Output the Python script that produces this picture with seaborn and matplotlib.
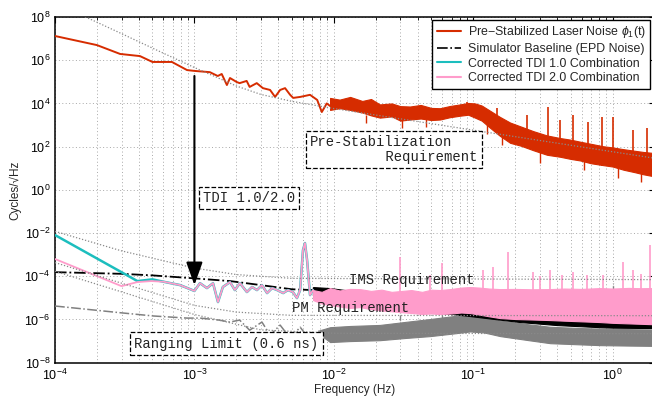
import matplotlib
matplotlib.use("Agg")
import matplotlib.pyplot as plt
import seaborn as sns
from matplotlib.ticker import FixedLocator, LogLocator, NullLocator, LogFormatterMathtext
from matplotlib.lines import Line2D

# ---------------- data ----------------
# Pre-stabilized laser noise (red): traced low-frequency part
red_f = [1e-4, 2.0e-4, 2.93e-4, 4.07e-4, 5.0e-4, 6.9e-4, 8.85e-4, 1.0e-3, 1.29e-3, 1.47e-3,
         1.57e-3, 1.71e-3, 1.80e-3, 2.01e-3, 2.11e-3, 2.37e-3, 2.49e-3, 2.80e-3, 3.10e-3, 3.49e-3,
         3.79e-3, 4.12e-3, 4.47e-3, 4.86e-3, 5.11e-3, 5.74e-3, 6.75e-3, 7.6e-3, 8.2e-3, 8.9e-3, 9.4e-3]
red_v = [1.32e7, 5.0e6, 1.95e6, 1.55e6, 8.3e5, 8.3e5, 3.5e5, 3.2e5, 2.8e5, 1.86e5,
         2.3e5, 7.1e4, 1.5e5, 9.8e4, 8.7e4, 1.1e5, 5.8e4, 8.7e4, 5.1e4, 4.2e4,
         2.0e4, 4.2e4, 5.1e4, 2.5e4, 1.8e4, 2.0e4, 2.5e4, 1.45e4, 4.0e3, 1.0e4, 7.6e3]
# red noisy band (high frequency)
red_band_f = [9.4e-3, 1.1e-2, 1.31e-2, 1.6e-2, 1.85e-2, 2.14e-2, 2.6e-2, 3.0e-2, 3.52e-2, 4.2e-2,
              5.0e-2, 5.78e-2, 6.8e-2, 8.04e-2, 0.092, 0.103, 0.115, 0.132, 0.155, 0.184,
              0.22, 0.27, 0.338, 0.42, 0.50, 0.583, 0.70, 0.85, 1.0, 1.2, 1.45, 1.65, 1.85, 2.0]
red_band_hi = [1.8e4, 1.5e4, 2.0e4, 1.3e4, 1.6e4, 9.0e3, 1.0e4, 7.5e3, 7.2e3, 8.5e3,
               6.2e3, 6.0e3, 7.6e3, 9.0e3, 1.05e4, 1.0e4, 8.0e3, 4.6e3, 2.4e3, 1.3e3,
               8.5e2, 5.2e2, 3.3e2, 2.5e2, 2.1e2, 1.7e2, 1.35e2, 1.05e2, 92, 76, 64, 57, 53, 50]
red_band_lo = [5.0e3, 6.0e3, 5.0e3, 3.8e3, 2.8e3, 2.2e3, 2.5e3, 1.6e3, 1.8e3, 2.0e3,
               1.7e3, 1.8e3, 2.3e3, 2.7e3, 3.0e3, 2.2e3, 1.6e3, 7.5e2, 3.2e2, 1.5e2,
               1.1e2, 68, 42, 34, 27, 23, 17, 14, 12, 8.5, 6.5, 5.3, 4.6, 4.2]
red_spike_f = [0.0597, 0.0904, 0.148, 0.243, 0.344, 0.42, 0.52, 0.667, 0.84, 1.0, 1.40, 1.77]
red_spike_v = [5.0e3, 1.2e4, 6.2e3, 2.9e3, 6.8e3, 1.7e3, 2.9e3, 1.4e3, 2.3e3, 2.3e3, 5.9e2, 7.3e2]
red_spike_base = [2.0e3, 3.0e3, 5.0e2, 1.2e2, 45, 34, 25, 17, 13, 12, 6.5, 5.0]
red_dip_f = [1.7e-2, 3.1e-2, 4.6e-2, 0.125, 0.16, 0.30, 0.62, 1.1, 1.6]
red_dip_top = [3.0e3, 2.0e3, 2.0e3, 2.0e3, 5.0e2, 60, 25, 10, 6]
red_dip_v = [1.2e3, 7.0e2, 8.0e2, 4.0e2, 1.2e2, 18, 8, 3.5, 2.2]

# Simulator baseline (EPD noise, black dash-dot)
epd_f = [1e-4, 3e-4, 5e-4, 1e-3, 1.8e-3, 3e-3, 5e-3, 7.1e-3]
epd_v = [1.55e-4, 1.3e-4, 1.1e-4, 8e-5, 6e-5, 3.9e-5, 2.5e-5, 2.3e-5]
epd_band_f = [7.1e-3, 9.4e-3, 2.0e-2, 4.15e-2, 7.0e-2, 9.5e-2, 0.12, 0.217, 0.4, 0.81, 1.0, 1.85, 2.0]
epd_band_hi = [3.16e-5, 2.84e-5, 1.5e-5, 7.9e-6, 6.5e-6, 5.7e-6, 5.5e-6, 3.75e-6, 3.0e-6, 2.45e-6, 2.4e-6, 2.2e-6, 2.2e-6]
epd_band_lo = [1.09e-5, 7.9e-6, 4.0e-6, 2.2e-6, 1.8e-6, 1.44e-6, 1.2e-6, 7.6e-7, 5.5e-7, 4.4e-7, 4.2e-7, 4.0e-7, 4.0e-7]

# Corrected TDI 1.0 (cyan): visible low-frequency part
tdi1_f = [1e-4, 3.9e-4, 5.0e-4, 6.0e-4]
tdi1_v = [8.1e-3, 6.0e-5, 7.2e-5, 5.6e-5]

# Corrected TDI 2.0 (pink)
tdi2_f = [1e-4, 3.0e-4, 3.9e-4, 4.9e-4, 6.0e-4, 7.9e-4, 1.0e-3, 1.096e-3, 1.23e-3, 1.36e-3,
          1.476e-3, 1.60e-3, 1.80e-3, 1.95e-3, 2.12e-3, 2.38e-3, 2.59e-3, 2.81e-3, 3.05e-3, 3.32e-3,
          3.61e-3, 3.92e-3, 4.33e-3, 4.69e-3, 5.09e-3, 5.44e-3, 5.73e-3, 6.01e-3, 6.21e-3, 6.43e-3,
          6.75e-3, 7.10e-3]
tdi2_v = [6.3e-4, 3.5e-5, 5.4e-5, 6.0e-5, 5.6e-5, 3.9e-5, 2.1e-5, 4.8e-5, 2.84e-5, 4.8e-5,
          6.4e-6, 3.2e-5, 5.4e-5, 2.3e-5, 4.8e-5, 1.86e-5, 3.2e-5, 2.3e-5, 3.9e-5, 1.67e-5,
          2.84e-5, 2.3e-5, 1.67e-5, 2.3e-5, 1.86e-5, 9.8e-6, 2.3e-5, 1.63e-3, 3.44e-3, 5.6e-4,
          1.35e-5, 2.3e-5]
tdi2_band_f = [7.1e-3, 8.2e-3, 9.4e-3, 1.1e-2, 1.3e-2, 1.54e-2, 1.85e-2, 2.2e-2, 2.6e-2, 2.99e-2,
               3.6e-2, 4.3e-2, 5.0e-2, 5.78e-2, 7.0e-2, 8.2e-2, 9.5e-2, 0.11, 0.13, 0.156,
               0.2, 0.26, 0.356, 0.45, 0.6, 0.81, 1.0, 1.3, 1.6, 1.85, 2.0]
tdi2_band_hi = [2.3e-5, 1.9e-5, 2.84e-5, 2.2e-5, 2.6e-5, 2.55e-5, 2.1e-5, 2.4e-5, 1.9e-5, 2.06e-5,
                2.3e-5, 1.9e-5, 2.4e-5, 2.3e-5, 2.6e-5, 3.0e-5, 3.16e-5, 3.0e-5, 2.7e-5, 2.55e-5,
                2.6e-5, 2.5e-5, 2.55e-5, 2.7e-5, 2.6e-5, 2.84e-5, 2.7e-5, 2.9e-5, 2.8e-5, 2.84e-5, 2.84e-5]
tdi2_band_lo = [7.9e-6, 5.5e-6, 4.6e-6, 4.0e-6, 3.4e-6, 3.75e-6, 3.0e-6, 2.6e-6, 2.4e-6, 2.2e-6,
                2.0e-6, 1.8e-6, 1.9e-6, 1.78e-6, 1.9e-6, 2.1e-6, 1.98e-6, 1.7e-6, 1.4e-6, 1.16e-6,
                1.05e-6, 1.0e-6, 9.4e-7, 8.8e-7, 8.2e-7, 7.6e-7, 7.0e-7, 6.6e-7, 6.3e-7, 6.1e-7, 6.0e-7]
tdi2_spike_f = [2.99e-2, 4.9e-2, 5.97e-2, 0.1175, 0.139, 0.178, 0.269, 0.30, 0.356, 0.43,
                0.52, 0.65, 0.853, 1.19, 1.40, 1.6, 1.85]
tdi2_spike_v = [7.8e-4, 1.2e-4, 4.1e-4, 1.94e-4, 2.7e-4, 1.32e-3, 1.55e-4, 1.0e-4, 1.94e-4, 1.1e-4,
                1.55e-4, 1.2e-4, 1.15e-4, 4.5e-4, 1.94e-4, 1.3e-4, 2.8e-3]

# unlabelled grey trace (dash-dot)
grey_f = [1e-4, 2.97e-4, 5.1e-4, 8.85e-4, 1.1e-3, 1.5e-3, 1.8e-3, 2.11e-3, 2.49e-3, 3.05e-3,
          3.49e-3, 4.12e-3, 4.86e-3, 5.74e-3, 6.75e-3, 7.96e-3, 9.4e-3]
grey_v = [4.2e-6, 2.04e-6, 1.45e-6, 1.16e-6, 1.16e-6, 9.4e-7, 7.6e-7, 9.4e-7, 3.2e-7, 7.6e-7,
          1.9e-7, 5.5e-7, 1.38e-7, 4.4e-7, 1.1e-7, 3.2e-7, 2.5e-7]
grey_band_f = [7.96e-3, 9.4e-3, 1.3e-2, 2.14e-2, 3.3e-2, 4.9e-2, 7.0e-2, 9.5e-2, 0.12, 0.156, 0.25,
               0.356, 0.6, 0.81, 1.3, 2.0]
grey_band_hi = [3.2e-7, 4.4e-7, 5.0e-7, 5.6e-7, 7.8e-7, 1.05e-6, 1.4e-6, 1.8e-6, 1.5e-6, 8.8e-7, 6.0e-7,
                4.6e-7, 4.0e-7, 3.8e-7, 3.6e-7, 3.4e-7]
grey_band_lo = [2.0e-7, 9e-8, 1.0e-7, 1.1e-7, 1.4e-7, 1.7e-7, 2.2e-7, 2.8e-7, 2.5e-7, 1.7e-7, 1.1e-7,
                8.0e-8, 7.0e-8, 6.5e-8, 6.2e-8, 6.0e-8]
grey_spike_f = [2.99e-2, 5.97e-2, 1.0]
grey_spike_v = [1.0e-5, 8e-6, 5e-5]

# requirement curves (grey dotted)
prestab_f = [1.5e-4, 3e-4, 6e-4, 1e-3, 2e-3, 3e-3, 5e-3, 1e-2, 0.1, 1, 2]
prestab_v = [1.35e8, 1.7e7, 2.1e6, 4.6e5, 6.4e4, 2.6e4, 1.25e4, 5.8e3, 5.8e2, 58, 29]
ims_f = [1e-4, 3e-4, 1e-3, 2e-3, 5e-3, 2]
ims_v = [1.2e-2, 1.5e-3, 2.4e-4, 1.2e-4, 8e-5, 7e-5]
pm_f = [1e-4, 3e-4, 1e-3, 2e-3, 5e-3, 2]
pm_v = [4.3e-4, 4.8e-5, 4.5e-6, 2.2e-6, 1.55e-6, 1.5e-6]
rang_f = [1e-4, 3e-4, 1e-3, 3e-3, 1e-2, 2]
rang_v = [1.7e-4, 1.9e-5, 1.7e-6, 3.3e-7, 2.3e-7, 2.2e-7]

x_ticks = [1e-4, 1e-3, 1e-2, 1e-1, 1e0]
y_ticks = [1e-8, 1e-6, 1e-4, 1e-2, 1e0, 1e2, 1e4, 1e6, 1e8]

legend_labels = ["Pre\u2212Stabilized Laser Noise $\\phi_1$(t)",
                 "Simulator Baseline (EPD Noise)",
                 "Corrected TDI 1.0 Combination",
                 "Corrected TDI 2.0 Combination"]

# ---------------- style ----------------
RED = "#D62C00"
CYAN = "#1CBEBE"
PINK = "#FF9CCB"
GREY = "#808080"
REQ = "#8a8a8a"

sns.set_style("white")
plt.rcParams["font.family"] = ["Liberation Sans", "DejaVu Sans"]
plt.rcParams["mathtext.fontset"] = "custom"
plt.rcParams["mathtext.rm"] = "Liberation Sans"
plt.rcParams["mathtext.it"] = "Liberation Sans:italic"
plt.rcParams["mathtext.bf"] = "Liberation Sans:bold"

fig = plt.figure(figsize=(6.52, 4.0), dpi=100)
ax = fig.add_axes([55 / 652, 1 - 362.7 / 400, 599.6 / 652, 345.7 / 400])
ax.set_xscale("log")
ax.set_yscale("log")


def line(f, v, **kw):
    sns.lineplot(x=f, y=v, ax=ax, estimator=None, sort=False, legend=False, **kw)


# requirement curves
for f, v in [(prestab_f, prestab_v), (ims_f, ims_v), (pm_f, pm_v), (rang_f, rang_v)]:
    line(f, v, color=REQ, linestyle=(0, (1, 1.5)), linewidth=0.9, zorder=4)

# red laser noise
line(red_f, red_v, color=RED, linewidth=1.4, zorder=3)
ax.fill_between(red_band_f, red_band_lo, red_band_hi, color=RED, linewidth=0.8, edgecolor=RED, zorder=3)
ax.vlines(red_spike_f, red_spike_base, red_spike_v, color=RED, linewidth=1.2, zorder=3)
ax.vlines(red_dip_f, red_dip_v, red_dip_top, color=RED, linewidth=1.0, zorder=3)

# grey trace
line(grey_f, grey_v, color=GREY, linestyle="-.", linewidth=1.1, zorder=3)
ax.fill_between(grey_band_f, grey_band_lo, grey_band_hi, color=GREY, linewidth=0.8, edgecolor=GREY, zorder=3)
ax.vlines(grey_spike_f, [2e-7] * len(grey_spike_f), grey_spike_v, color=GREY, linestyle="--", linewidth=1.0, zorder=3)

# EPD baseline
line(epd_f, epd_v, color="black", linestyle="-.", linewidth=1.3, zorder=3)
ax.fill_between(epd_band_f, epd_band_lo, epd_band_hi, color="black", linewidth=0.8, edgecolor="black", zorder=3)

# TDI 1.0 (cyan) continues under TDI 2.0
line(tdi1_f + tdi2_f[5:], tdi1_v + tdi2_v[5:], color=CYAN, linewidth=1.8, zorder=3)
# TDI 2.0
line(tdi2_f, tdi2_v, color=PINK, linewidth=1.3, zorder=3)
ax.fill_between(tdi2_band_f, tdi2_band_lo, tdi2_band_hi, color=PINK, linewidth=0.8, edgecolor=PINK, zorder=3)
ax.vlines(tdi2_spike_f, [1.5e-5] * len(tdi2_spike_f), tdi2_spike_v, color=PINK, linewidth=1.2, zorder=3)

# ---------------- axes ----------------
ax.set_xlim(1e-4, 2)
ax.set_ylim(1e-8, 1e8)
ax.xaxis.set_major_locator(FixedLocator(x_ticks))
ax.xaxis.set_minor_locator(LogLocator(base=10, subs=[2, 3, 4, 5, 6, 7, 8, 9], numticks=20))
ax.yaxis.set_major_locator(FixedLocator(y_ticks))
ax.yaxis.set_minor_locator(NullLocator())
ax.xaxis.set_major_formatter(LogFormatterMathtext(base=10))
ax.yaxis.set_major_formatter(LogFormatterMathtext(base=10))
ax.tick_params(which="both", direction="in", top=True, right=True, colors="black", labelsize=9)
ax.tick_params(which="major", length=4, width=0.8)
ax.tick_params(which="minor", length=2.5, width=0.6)
ax.grid(which="major", axis="both", color="#a8a8a8", linestyle=(0, (1, 2.5)), linewidth=0.7)
ax.grid(which="minor", axis="x", color="#a8a8a8", linestyle=(0, (1, 2.5)), linewidth=0.7)
ax.set_axisbelow(True)
for s in ax.spines.values():
    s.set_color("black")
    s.set_linewidth(1.1)

ax.set_xlabel("Frequency (Hz)", fontsize=8.5, labelpad=1)
ax.set_ylabel("Cycles/\u221aHz", fontsize=8.5, labelpad=2)

# ---------------- annotations ----------------
ax.annotate("", xy=(1e-3, 3.9e-5), xytext=(1e-3, 1.86e5),
            arrowprops=dict(arrowstyle="-|>,head_length=0.7,head_width=0.25", color="black",
                            lw=1.5, mutation_scale=20, shrinkA=0, shrinkB=0), zorder=5)

box = dict(boxstyle="square,pad=0.3", fc="white", ec="black", ls="--", lw=0.9)
mono = dict(family=["Liberation Mono", "DejaVu Sans Mono"], fontsize=10, color="#222222", zorder=6)
ax.text(2.47e-3, 0.42, "TDI 1.0/2.0", ha="center", va="center", bbox=box, **mono)
ax.text(2.7e-2, 73, "Pre-Stabilization\n         Requirement", ha="center", va="center",
        multialignment="left", linespacing=1.05, bbox=box, **mono)
ax.text(1.70e-3, 7.65e-8, "Ranging Limit (0.6 ns)", ha="center", va="center", bbox=box, **mono)
ax.text(3.64e-2, 6.7e-5, "IMS Requirement", ha="center", va="center", **mono)
ax.text(1.33e-2, 3.4e-6, "PM Requirement", ha="center", va="center", **mono)

# ---------------- legend ----------------
handles = [Line2D([], [], color=RED, lw=1.5),
           Line2D([], [], color="black", lw=1.2, ls="-."),
           Line2D([], [], color=CYAN, lw=1.5),
           Line2D([], [], color=PINK, lw=1.5)]
leg = ax.legend(handles, legend_labels, loc="upper right", bbox_to_anchor=(0.9923, 0.9913),
                borderaxespad=0, fontsize=8.9, frameon=True, fancybox=False, edgecolor="black",
                framealpha=1, handlelength=2.0, handletextpad=0.5, borderpad=0.35, labelspacing=0.22)
leg.get_frame().set_linewidth(1.0)
leg.set_zorder(10)

fig.savefig("out.png", dpi=100)
